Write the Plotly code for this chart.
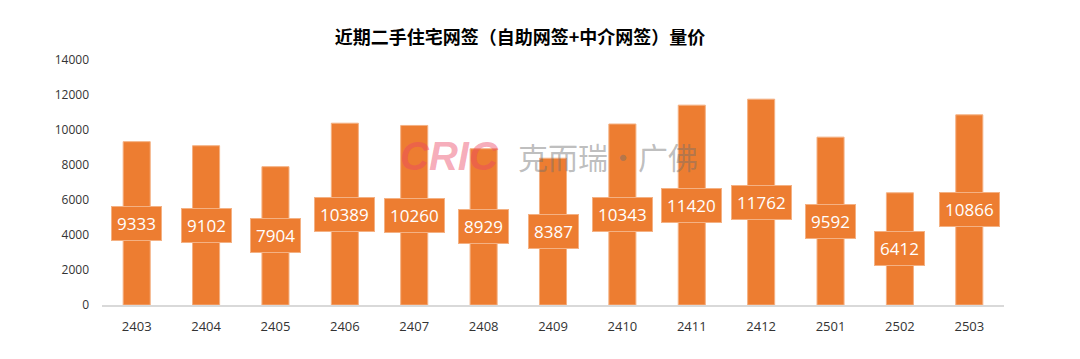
import plotly.graph_objects as go

months = ["2403", "2404", "2405", "2406", "2407", "2408", "2409",
          "2410", "2411", "2412", "2501", "2502", "2503"]
volumes = [9333, 9102, 7904, 10389, 10260, 8929, 8387,
           10343, 11420, 11762, 9592, 6412, 10866]
y_ticks = [0, 2000, 4000, 6000, 8000, 10000, 12000, 14000]
title_text = "近期二手住宅网签（自助网签+中介网签）量价"

ORANGE = "#ED7D31"
fig = go.Figure()
fig.add_trace(go.Bar(
    x=months, y=volumes,
    marker=dict(color=ORANGE, line=dict(color="#F4B183", width=1)),
    hoverinfo="x+y",
))

for i, (m, v) in enumerate(zip(months, volumes)):
    fig.add_annotation(
        x=i, y=v / 2, xref="x", yref="y", text=str(v), showarrow=False,
        font=dict(family="Open Sans, Noto Sans", size=17, color="white"),
        bgcolor=ORANGE, bordercolor="#F4B183", borderwidth=1, borderpad=5,
    )

W, H = 1080, 359
OFF = 8  # page body margin offset
ml, mr, mt, mb = 102 - OFF, 76 + OFF, 60 - OFF, 54 + OFF
pw, ph = W - ml - mr, H - mt - mb


def px_x(x):
    return (x - OFF - ml) / pw


def px_y(y):
    return (H - mb - (y - OFF)) / ph


# watermark
fig.add_annotation(
    x=px_x(449), y=px_y(156), xref="paper", yref="paper",
    text="<b><i>CRIC</i></b>", showarrow=False,
    font=dict(family="Liberation Sans", size=40, color="rgba(236,70,100,0.45)"),
)
fig.add_annotation(
    x=px_x(608), y=px_y(156), xref="paper", yref="paper",
    text="克而瑞·广佛", showarrow=False,
    font=dict(family="Noto Sans CJK SC", size=30, color="rgba(110,110,110,0.45)"),
)

fig.update_layout(
    width=W, height=H,
    margin=dict(l=ml, r=mr, t=mt, b=mb),
    plot_bgcolor="white", paper_bgcolor="white",
    bargap=0.61,
    showlegend=False,
    title=dict(text="<b>" + title_text + "</b>", x=(520 - OFF) / W, xanchor="center",
               y=1 - (38 - OFF) / H, yanchor="middle",
               font=dict(family="Noto Sans CJK SC", size=18, color="#000000")),
    xaxis=dict(
        type="category", range=[-0.5, len(months) - 0.5],
        showline=True, linecolor="#D9D9D9", linewidth=1.5,
        ticks="", showgrid=False, ticklabelstandoff=9,
        tickfont=dict(family="Open Sans, Noto Sans", size=13, color="#333333"),
    ),
    yaxis=dict(
        range=[0, 14000], tickvals=y_ticks, tickformat="d",
        showgrid=False, zeroline=False,
        showline=False, ticks="", ticklabelstandoff=12,
        tickfont=dict(family="Open Sans, Noto Sans", size=12, color="#333333"),
    ),
)

fig.write_html("out.html")
